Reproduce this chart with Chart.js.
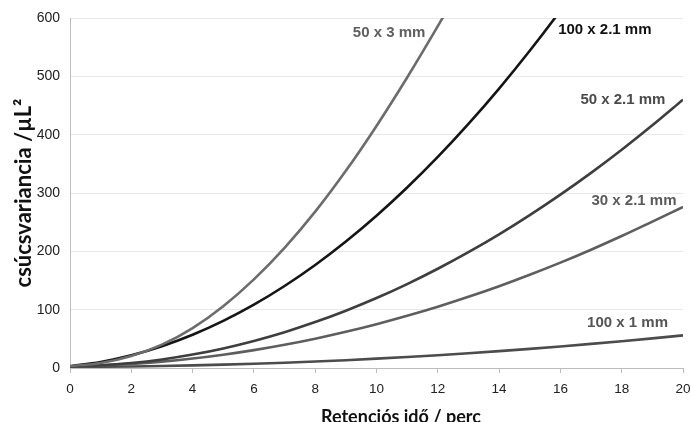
<!DOCTYPE html>
<html>
<head>
<meta charset="utf-8">
<script src="https://cdn.jsdelivr.net/npm/chart.js@4.4.1/dist/chart.umd.min.js"></script>
<style>
  html, body { margin: 0; padding: 0; background: #ffffff; }
  #wrap { width: 691px; height: 422px; }
</style>
</head>
<body>
<div id="wrap"><canvas id="c" width="691" height="422"></canvas></div>
<script>
// Retention time (min)
const retentionTimes = [0, 1, 2, 3, 4, 5, 6, 7, 8, 9, 10, 11, 12, 13, 14, 15, 16, 17, 18, 19, 20];

// Peak variance (µL²) for each column geometry
const col50x3   = [3, 8.5, 20.5, 40, 68.5, 106, 152, 206, 268, 338, 415, 498, 586, 678];
const col100x21 = [3, 10.4, 21.8, 37.4, 57, 80.8, 108.6, 140.6, 176.6, 216.8, 261, 309.4, 361.8, 418.4, 479, 543.8, 612.6, 685.6];
const col50x21  = [3, 4.6, 8.5, 14.6, 23, 33.6, 46.4, 61.4, 78.7, 98.2, 119.9, 143.9, 170.1, 198.5, 229.1, 262.1, 297.2, 334.5, 374.1, 416, 460];
const col30x21  = [3, 4.4, 7, 10.9, 16.2, 22.8, 30.6, 39.8, 50.2, 62, 75, 89.4, 105, 122, 140.2, 159.8, 180.6, 202.8, 226.2, 251, 276];
const col100x1  = [2, 2.2, 2.7, 3.5, 4.5, 5.8, 7.3, 9.1, 11.1, 13.4, 16, 18.8, 21.9, 25.3, 28.9, 32.8, 36.9, 41.3, 45.9, 50.8, 56];

const seriesNames = ['50 x 3 mm', '100 x 2.1 mm', '50 x 2.1 mm', '30 x 2.1 mm', '100 x 1 mm'];
const seriesValues = [col50x3, col100x21, col50x21, col30x21, col100x1];
const lineColors = ['#6c6c6c', '#151515', '#3e3e3e', '#5e5e5e', '#4c4c4c'];
const labelColors = ['#5e5e5e', '#111111', '#4a4a4a', '#5a5a5a', '#555555'];
// Where each curve's name sits, in axis units (time, variance)
const labelAnchors = [[10.41, 575], [17.45, 580], [18.04, 460], [18.4, 287], [18.19, 78]];

const xTitle = 'Retenciós idő / perc';
const yTitle = 'csúcsvariancia /µL²';

const toPoints = vals => vals.map((v, i) => ({ x: retentionTimes[i], y: v }));

const curveLabels = {
  id: 'curveLabels',
  afterDatasetsDraw(chart) {
    const { ctx, scales } = chart;
    ctx.save();
    ctx.font = 'bold 15px "Liberation Sans", Arial, sans-serif';
    ctx.textAlign = 'center';
    ctx.textBaseline = 'middle';
    seriesNames.forEach((name, i) => {
      const [t, v] = labelAnchors[i];
      ctx.fillStyle = labelColors[i];
      ctx.fillText(name, scales.x.getPixelForValue(t), scales.y.getPixelForValue(v));
    });
    ctx.restore();
  }
};

const axisTitles = {
  id: 'axisTitles',
  afterDraw(chart) {
    const { ctx, chartArea } = chart;
    ctx.save();
    ctx.fillStyle = '#111111';
    ctx.textAlign = 'center';
    ctx.textBaseline = 'alphabetic';
    ctx.font = 'bold 18px Lato, "Open Sans", sans-serif';
    ctx.fillText(xTitle, 401, 423);
    ctx.translate(31, (chartArea.top + chartArea.bottom) / 2);
    ctx.rotate(-Math.PI / 2);
    ctx.font = 'bold 22px Lato, "Open Sans", sans-serif';
    ctx.fillText(yTitle, 0, 0);
    ctx.restore();
  }
};

new Chart(document.getElementById('c'), {
  type: 'line',
  data: {
    datasets: seriesValues.map((vals, i) => ({
      label: seriesNames[i],
      data: toPoints(vals),
      borderColor: lineColors[i],
      borderWidth: 2.6,
      pointRadius: 0,
      fill: false,
      cubicInterpolationMode: 'monotone',
      clip: 0
    }))
  },
  options: {
    responsive: false,
    devicePixelRatio: 1,
    animation: false,
    layout: { padding: { top: 18, right: 0, left: 0, bottom: 0 } },
    plugins: { legend: { display: false }, tooltip: { enabled: false } },
    scales: {
      x: {
        type: 'linear',
        min: 0, max: 20,
        afterFit(scale) {
          scale.height = 54;
          scale.paddingLeft = 0;
          scale.paddingRight = 8;
        },
        ticks: {
          stepSize: 2,
          padding: 8,
          color: '#222222',
          font: { family: '"Liberation Sans", Arial, sans-serif', size: 13.5 }
        },
        grid: { drawOnChartArea: false, drawTicks: true, tickLength: 5, color: '#bdbdbd' },
        border: { color: '#bdbdbd', width: 1 }
      },
      y: {
        type: 'linear',
        min: 0, max: 600,
        afterFit(scale) {
          scale.width = 70;
          scale.paddingTop = 0;
          scale.paddingBottom = 0;
        },
        ticks: {
          stepSize: 100,
          padding: 10,
          color: '#222222',
          font: { family: '"Liberation Sans", Arial, sans-serif', size: 14 }
        },
        grid: { drawTicks: false, color: '#e8e8e8' },
        border: { color: '#bdbdbd', width: 1 }
      }
    }
  },
  plugins: [curveLabels, axisTitles]
});
</script>
</body>
</html>
